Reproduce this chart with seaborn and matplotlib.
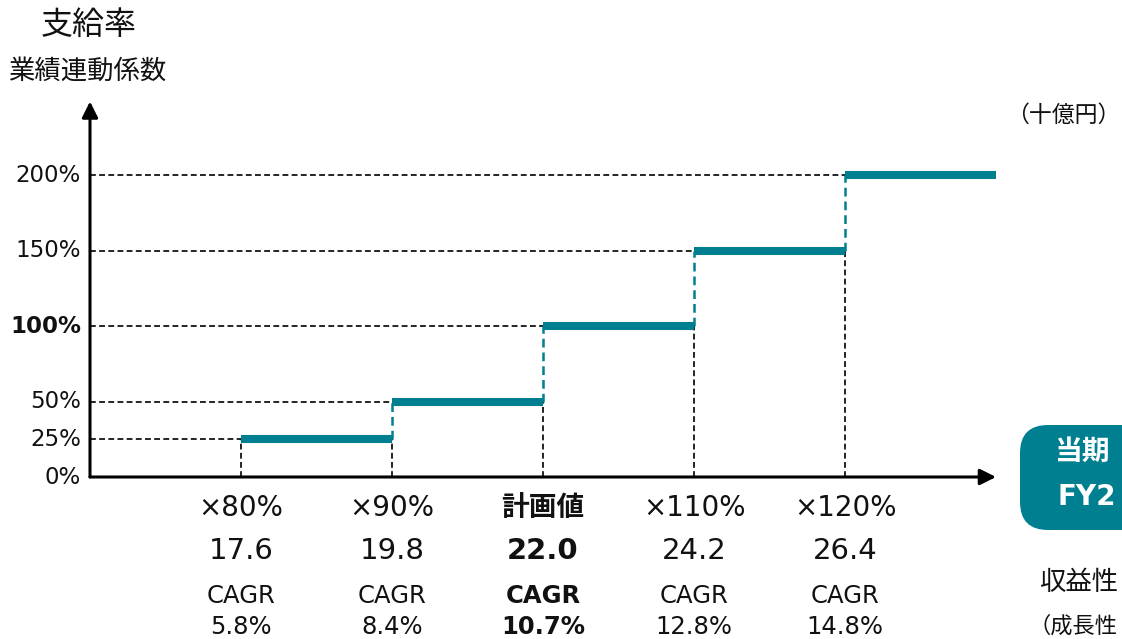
import matplotlib
matplotlib.use("Agg")
import matplotlib.pyplot as plt
import matplotlib.transforms as mtransforms
from matplotlib.patches import FancyBboxPatch
import seaborn as sns
import pandas as pd

# データ
ratios = [80, 90, 100, 110, 120]          # 計画値に対する比率(%)
rates = [25, 50, 100, 150, 200]           # 支給率(%)
x_end = 130                               # 最後の段の右端
cat_labels = ["×80%", "×90%", "計画値", "×110%", "×120%"]
profits = [17.6, 19.8, 22.0, 24.2, 26.4]  # 十億円
cagr = [5.8, 8.4, 10.7, 12.8, 14.8]
ytick_vals = [0, 25, 50, 100, 150, 200]
plan_idx = 2

TEAL = "#007F91"
INK = "#111111"

sns.set_theme(style="white")
plt.rcParams["font.family"] = ["DejaVu Sans", "Noto Sans CJK JP"]

W, H = 1122, 639
fig = plt.figure(figsize=(W / 100, H / 100), dpi=100)
ax = fig.add_axes([90 / W, (H - 477) / H, 906 / W, 374 / H])

# 段差の水平線 (seaborn)
xs_next = ratios[1:] + [x_end]
rows = []
for i, (x0, x1, r) in enumerate(zip(ratios, xs_next, rates)):
    rows.append({"seg": i, "x": x0, "y": r})
    rows.append({"seg": i, "x": x1, "y": r})
steps = pd.DataFrame(rows)
sns.lineplot(data=steps, x="x", y="y", units="seg", estimator=None,
             color=TEAL, lw=5.8, solid_capstyle="butt", ax=ax, zorder=5,
             legend=False)
ax.set_xlim(70, x_end)
ax.set_ylim(0, 248)
ax.axis("off")

dash = (0, (3.5, 2))
for i, (x, r) in enumerate(zip(ratios, rates)):
    prev = rates[i - 1] if i > 0 else r
    # 補助線
    ax.plot([70, x], [r, r], color="black", lw=1.2, ls=dash, zorder=2)
    ax.plot([x, x], [0, prev], color="black", lw=1.2, ls=dash, zorder=2)
    if i > 0:
        ax.plot([x, x], [prev, r], color=TEAL, lw=1.8, ls=dash, zorder=3)

# 軸の矢印
arrow = dict(arrowstyle="-|>", color="black", lw=2.2, mutation_scale=24,
             shrinkA=0, shrinkB=0)
ax.annotate("", xy=(x_end, 0), xytext=(70, 0), arrowprops=arrow,
            annotation_clip=False)
ax.annotate("", xy=(70, 249), xytext=(70, 0), arrowprops=arrow,
            annotation_clip=False)

# y目盛ラベル
for v in ytick_vals:
    ax.text(69.4, v, f"{v}%", ha="right", va="center", fontsize=16.5,
            fontweight="bold" if v == 100 else "normal", color=INK)

# 下のラベル
tr = mtransforms.blended_transform_factory(ax.transData, fig.transFigure)
def fy(px):
    return 1 - px / H

for i, x in enumerate(ratios):
    bold = "bold" if i == plan_idx else "normal"
    ax.text(x, fy(508), cat_labels[i], transform=tr, ha="center", va="center",
            fontsize=20, fontweight=bold, color=INK)
    ax.text(x, fy(551), f"{profits[i]:.1f}", transform=tr, ha="center",
            va="center", fontsize=21, fontweight=bold, color=INK)
    ax.text(x, fy(596), "CAGR", transform=tr, ha="center", va="center",
            fontsize=17.5, fontweight=bold, color=INK)
    ax.text(x, fy(627), f"{cagr[i]:.1f}%", transform=tr, ha="center",
            va="center", fontsize=17.5, fontweight=bold, color=INK)

# タイトル類
fig.text(41 / W, fy(25), "支給率", ha="left", va="center", fontsize=23,
         color=INK)
fig.text(8 / W, fy(72), "業績連動係数", ha="left", va="center", fontsize=19,
         color=INK)
fig.text(1006 / W, fy(115), "（十億円）", ha="left", va="center", fontsize=16.5,
         color=INK)

# 右側の枠 (画面右端で切れている)
box = FancyBboxPatch((1020 / W, fy(530)), 200 / W, 105 / H,
                     boxstyle="round,pad=0,rounding_size=0.025",
                     transform=fig.transFigure, facecolor=TEAL,
                     edgecolor="none", mutation_aspect=W / H)
fig.patches.append(box)
fig.text(1054 / W, fy(452), "当期", ha="left", va="center", fontsize=20,
         fontweight="bold", color="white")
fig.text(1058 / W, fy(497), "FY2", ha="left", va="center", fontsize=20,
         fontweight="bold", color="white")
fig.text(1039 / W, fy(583), "収益性", ha="left", va="center", fontsize=19,
         color=INK)
fig.text(1028 / W, fy(626), "（成長性", ha="left", va="center", fontsize=16,
         color=INK)

fig.savefig("out.png", dpi=100)
